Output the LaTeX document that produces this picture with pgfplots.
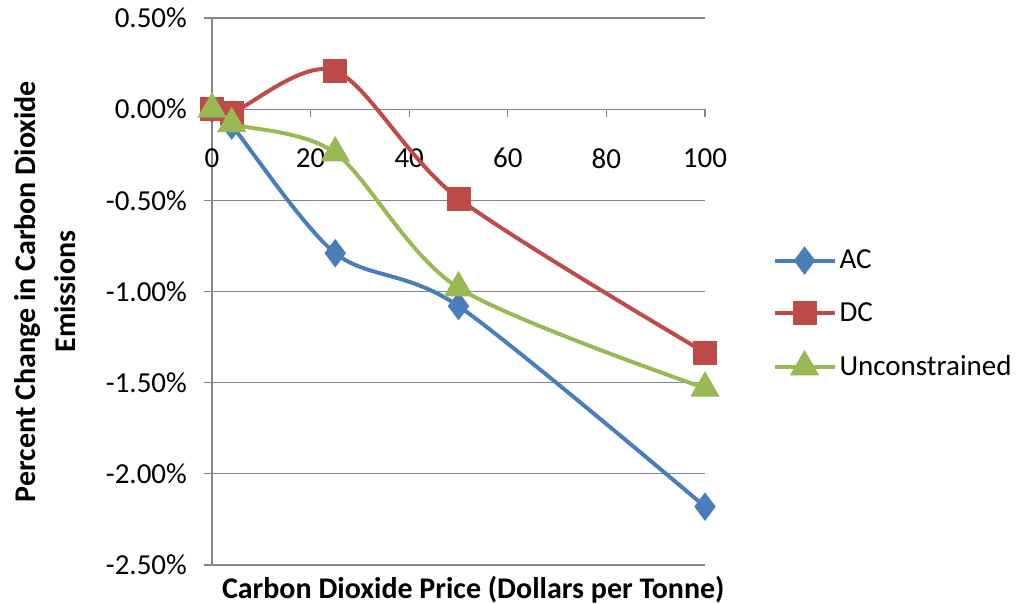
\documentclass[border=0pt]{standalone}
\usepackage{fontspec}
\setmainfont{Carlito}
\usepackage{pgfplots}
\pgfplotsset{compat=1.18}
\definecolor{acblue}{HTML}{4A7EBB}
\definecolor{dcred}{HTML}{BE4B48}
\definecolor{ucgreen}{HTML}{98B954}
\definecolor{gridgray}{HTML}{868686}

\begin{document}
\begin{tikzpicture}
\path[use as bounding box] (-106pt,-19.5pt) rectangle (404.5pt,282.5pt);
\begin{axis}[
    at={(0,0)}, anchor=south west,
    scale only axis,
    width=246.5pt, height=273.5pt,
    xmin=0, xmax=100, ymin=-2.5, ymax=0.5,
    axis x line=middle, axis y line=left,
    hide obscured x ticks=false,
    axis line style={gridgray, line width=0.6pt, -},
    ymajorgrids,
    grid style={gridgray, line width=0.6pt},
    tick style={gridgray, line width=0.6pt},
    tick align=outside,
    major tick length=4pt,
    xtick={0,20,40,60,80,100},
    ytick={-2.5,-2,-1.5,-1,-0.5,0,0.5},
    yticklabels={-2.50\%,-2.00\%,-1.50\%,-1.00\%,-0.50\%,0.00\%,0.50\%},
    /pgf/number format/assume math mode=true,
    tick label style={font=\fontsize{14.5}{17}\selectfont, black},
    xticklabel style={anchor=north, yshift=-12pt},
    yticklabel style={anchor=east, xshift=-5pt},
    xlabel={\textbf{Carbon Dioxide Price (Dollars per Tonne)}},
    xlabel style={at={(axis description cs:0.53,0)}, anchor=center, yshift=-12.5pt, font=\fontsize{15}{17}\selectfont},
    legend cell align=left,
    legend style={draw=none, fill=none, at={(axis description cs:1.124,0.59)}, anchor=north west,
        font=\fontsize{14.5}{17}\selectfont, row sep=12.5pt,
        nodes={inner sep=1.5pt}},
    legend image code/.code={\draw[#1, mark repeat=2, mark phase=2] plot coordinates {(0pt,0pt) (15pt,0pt) (30pt,0pt)};},
    every axis plot/.append style={line width=2pt, smooth},
    clip=false,
]
\addplot[acblue, mark=diamond*, mark size=5.5pt, mark options={solid, fill=acblue}] coordinates {
(0,0) (4,-0.09) (25,-0.79) (50,-1.08) (100,-2.18)
};
\addlegendentry{AC}
\addplot[dcred, mark=square*, mark size=5pt, mark options={solid, fill=dcred}] coordinates {
(0,0) (4,-0.02) (25,0.21) (50,-0.49) (100,-1.335)
};
\addlegendentry{DC}
\addplot[ucgreen, mark=triangle*, mark size=6.5pt, mark options={solid, fill=ucgreen}] coordinates {
(0,0) (4,-0.08) (25,-0.24) (50,-0.98) (100,-1.53)
};
\addlegendentry{Unconstrained}
\node[rotate=90, align=center, font=\fontsize{15}{20}\selectfont\bfseries]
    at (rel axis cs:-0.3387,0.5) {Percent Change in Carbon Dioxide\\Emissions};
\end{axis}
\end{tikzpicture}
\end{document}
